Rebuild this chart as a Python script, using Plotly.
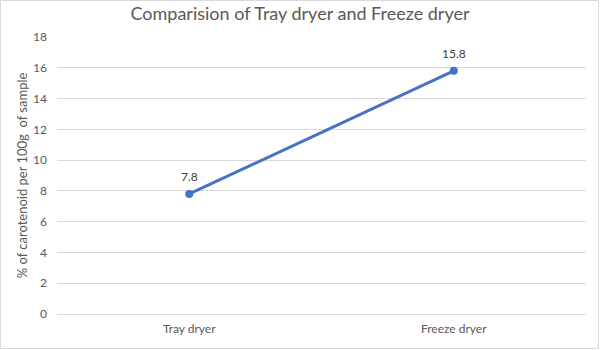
import plotly.graph_objects as go

categories = ["Tray dryer", "Freeze dryer"]
values = [7.8, 15.8]
y_ticks = list(range(0, 19, 2))

title_text = "Comparision of Tray dryer and Freeze dryer"
y_title = "% of carotenoid per 100g  of sample"

W, H = 600, 350
L, R, T, B = 57, 14, 37, 36
pw, ph = W - L - R, H - T - B

def px_x(p):
    return (p - L) / pw

def px_y(p):
    return (H - B - p) / ph

FONT = "Lato, Open Sans, sans-serif"

fig = go.Figure()
fig.add_trace(go.Scatter(
    x=categories, y=values,
    mode="lines+markers",
    line=dict(color="#4472C4", width=3),
    marker=dict(color="#4472C4", size=8),
    cliponaxis=False,
    hoverinfo="skip",
))

annotations = [
    dict(x=c, y=v, xref="x", yref="y", text=str(v), showarrow=False,
         yshift=17, font=dict(family=FONT, size=12, color="#404040"))
    for c, v in zip(categories, values)
]

fig.update_layout(
    width=W, height=H,
    margin=dict(l=L, r=R, t=T, b=B),
    paper_bgcolor="white", plot_bgcolor="white",
    showlegend=False,
    title=dict(text=title_text, x=0.5, xanchor="center", y=1 - 14 / H, yanchor="middle",
               font=dict(family=FONT, size=18, color="#595959")),
    font=dict(family=FONT, color="#595959"),
    xaxis=dict(
        type="category", range=[-0.5, 1.5],
        showgrid=False, showline=False, zeroline=False,
        ticks="", ticklabelstandoff=6, tickfont=dict(size=12, color="#595959"),
    ),
    yaxis=dict(
        range=[0, 18], tickvals=y_ticks,
        showgrid=True, gridcolor="#D9D9D9", gridwidth=1,
        zeroline=True, zerolinecolor="#D9D9D9", zerolinewidth=1,
        showline=False, ticks="", ticklen=0, ticklabelstandoff=9,
        tickfont=dict(size=12, color="#595959"),
        title=dict(text=y_title, font=dict(size=13, color="#595959"), standoff=2),
    ),
    annotations=annotations,
    shapes=[dict(
        type="rect", xref="paper", yref="paper",
        x0=px_x(0.5), x1=px_x(W - 1.5), y0=px_y(H - 1.5), y1=px_y(0.5),
        line=dict(color="#D9D9D9", width=1), fillcolor="rgba(0,0,0,0)", layer="below",
    )],
)

fig.write_html("out.html")
